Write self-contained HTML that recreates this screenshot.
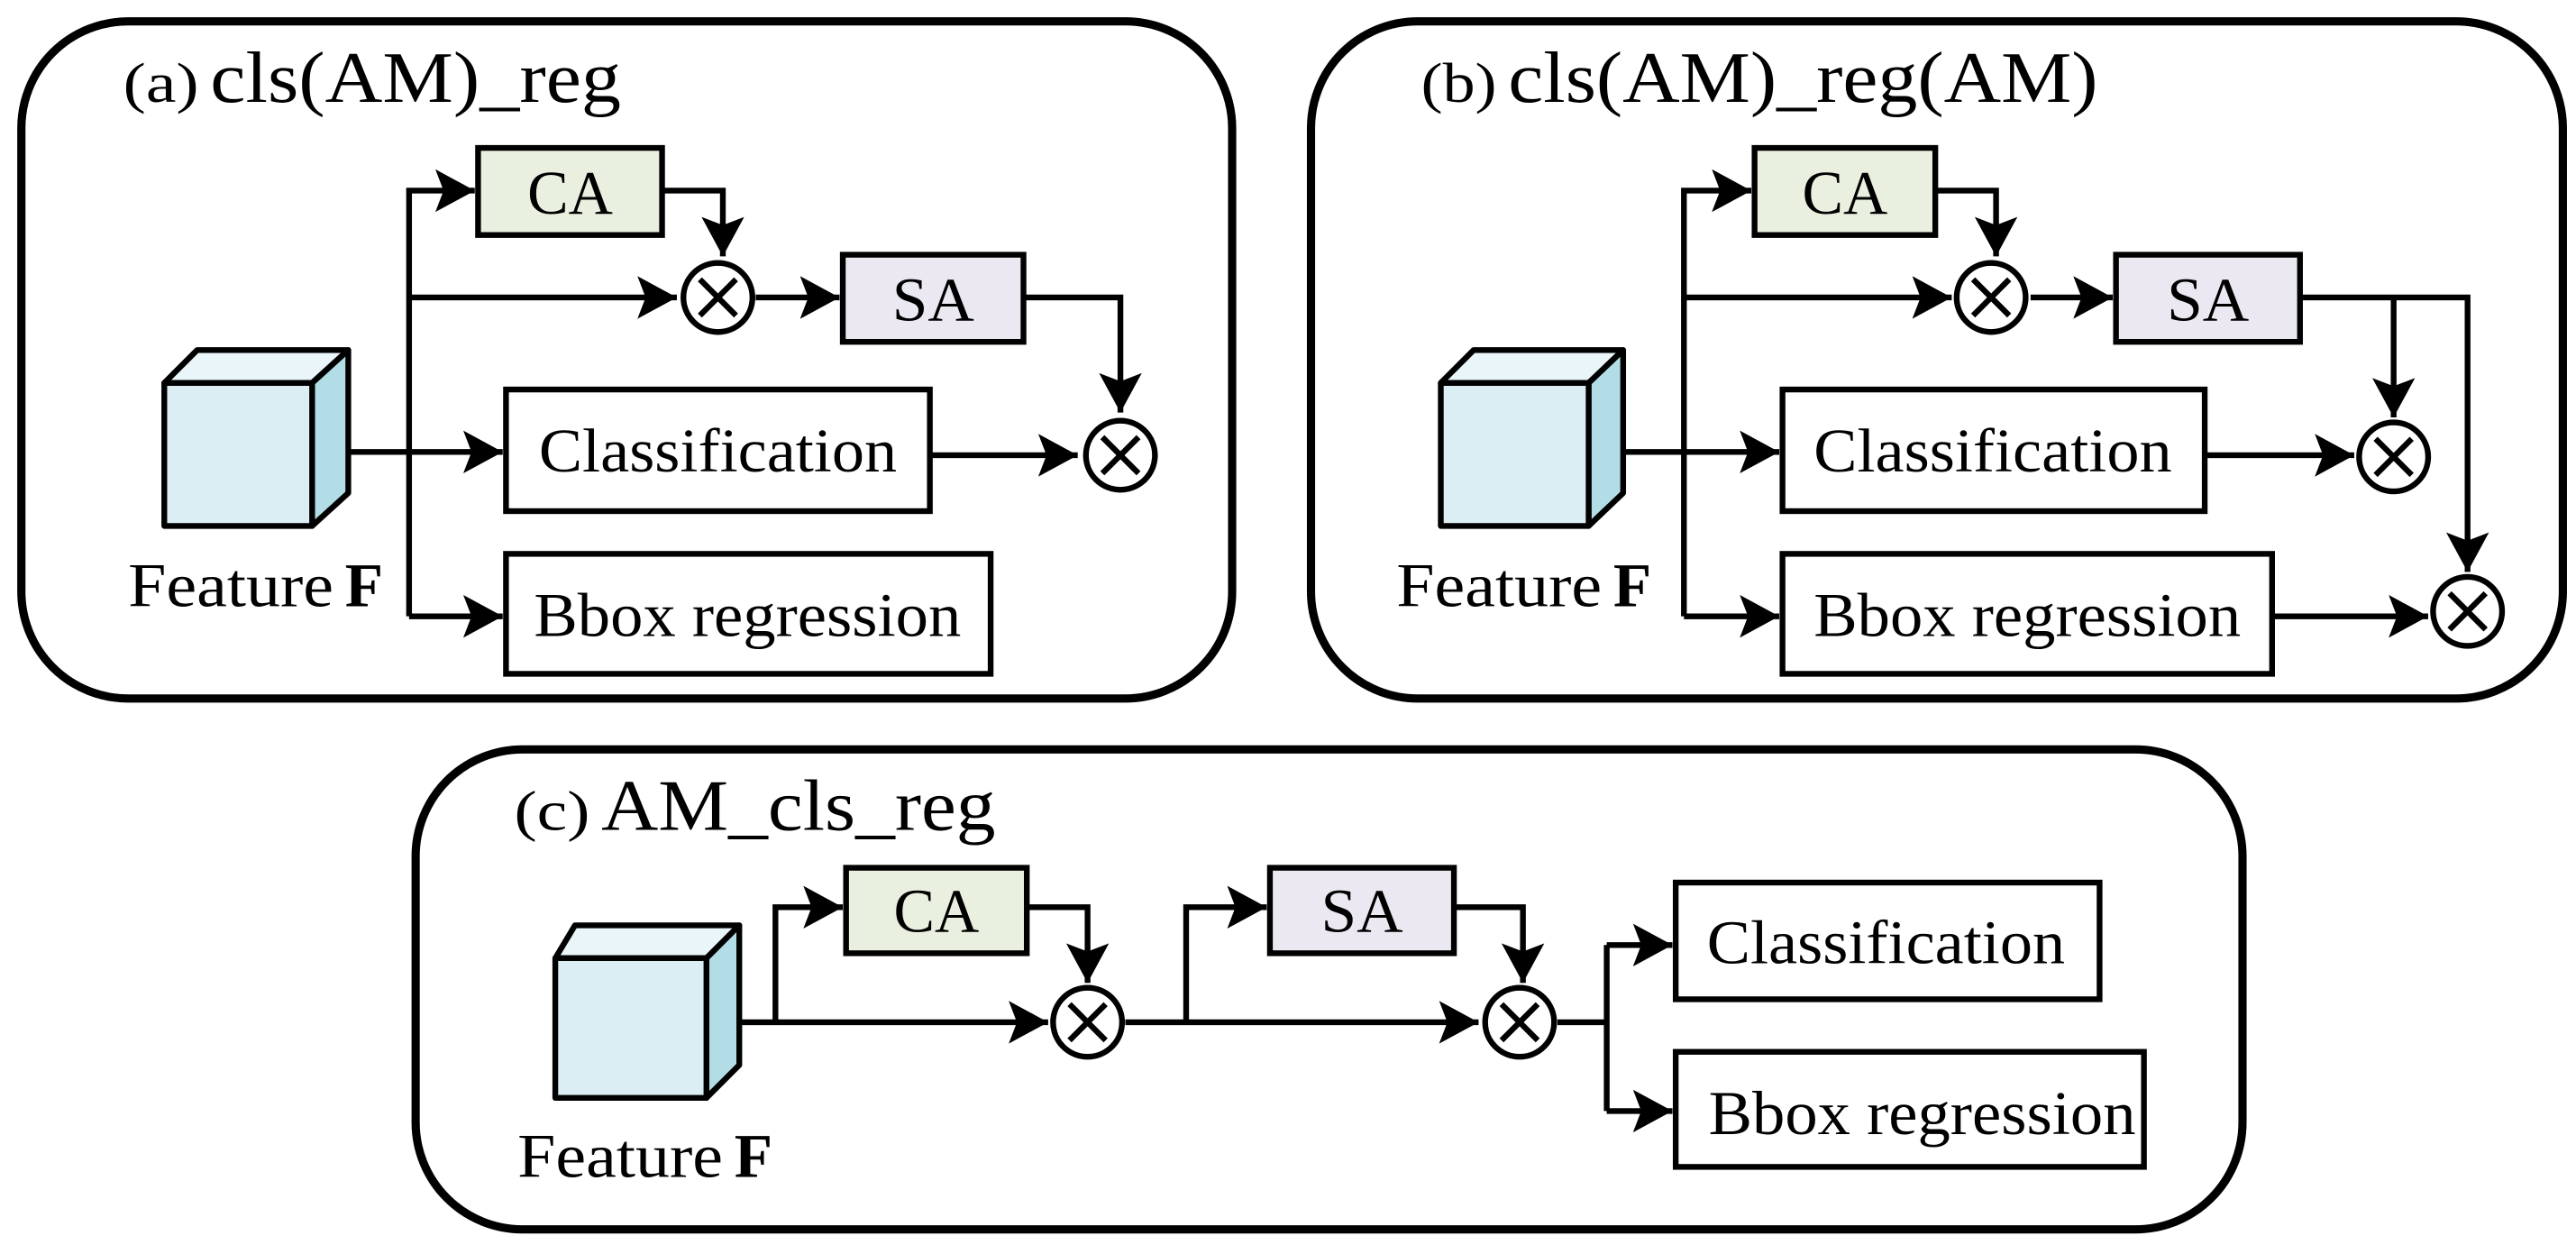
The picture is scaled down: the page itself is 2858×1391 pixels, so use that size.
<!DOCTYPE html>
<html><head><meta charset="utf-8"><style>html,body{margin:0;padding:0;background:#fff}svg{display:block}text{font-family:"Liberation Serif","Times New Roman",serif}</style></head><body>
<svg width="2858" height="1391" viewBox="0 0 1568 763" preserveAspectRatio="none" xmlns="http://www.w3.org/2000/svg">
<defs>
<marker id="ah" markerUnits="userSpaceOnUse" markerWidth="30" markerHeight="30" refX="24" refY="13" orient="auto">
<path d="M0,0 L24,13 L0,26 L5,13 Z" fill="#000"/>
</marker>
<g id="ox"><circle r="21" fill="#fff" stroke="#000" stroke-width="3.5"/><path d="M-11,-11 L11,11 M11,-11 L-11,11" stroke="#000" stroke-width="3.5"/></g>
</defs>
<g fill="none" stroke="#000" stroke-width="5">
<rect x="13" y="13" width="737" height="412" rx="65"/>
<rect x="798" y="13" width="762" height="412" rx="65"/>
<rect x="253" y="456" width="1112" height="292" rx="65"/>
</g>
<text x="75" y="62" font-size="34" textLength="46" lengthAdjust="spacingAndGlyphs">(a)</text>
<text x="128" y="62" font-size="44" textLength="250" lengthAdjust="spacingAndGlyphs">cls(AM)_reg</text>
<text x="865" y="62" font-size="34" textLength="46" lengthAdjust="spacingAndGlyphs">(b)</text>
<text x="918" y="62" font-size="44" textLength="359" lengthAdjust="spacingAndGlyphs">cls(AM)_reg(AM)</text>
<text x="313" y="505" font-size="34" textLength="46" lengthAdjust="spacingAndGlyphs">(c)</text>
<text x="366" y="505" font-size="44" textLength="240" lengthAdjust="spacingAndGlyphs">AM_cls_reg</text>

<g stroke="#000" stroke-width="3.5" fill="none">
<path d="M212,275 L306,275" marker-end="url(#ah)"/>
<path d="M249,375 L249,116 L289,116" marker-end="url(#ah)"/>
<path d="M249,375 L306,375" marker-end="url(#ah)"/>
<path d="M249,181 L412,181" marker-end="url(#ah)"/>
<path d="M460,181 L511,181" marker-end="url(#ah)"/>
<path d="M403,116 L440,116 L440,156" marker-end="url(#ah)"/>
<path d="M623,181 L682,181 L682,251" marker-end="url(#ah)"/>
<path d="M566,277 L656,277" marker-end="url(#ah)"/>
<path d="M987,275 L1083,275" marker-end="url(#ah)"/>
<path d="M1025,375 L1025,116 L1066,116" marker-end="url(#ah)"/>
<path d="M1025,375 L1083,375" marker-end="url(#ah)"/>
<path d="M1025,181 L1188,181" marker-end="url(#ah)"/>
<path d="M1236,181 L1286,181" marker-end="url(#ah)"/>
<path d="M1178,116 L1215,116 L1215,156" marker-end="url(#ah)"/>
<path d="M1400,181 L1502,181 L1502,348" marker-end="url(#ah)"/>
<path d="M1457,181 L1457,254" marker-end="url(#ah)"/>
<path d="M1342,277 L1433,277" marker-end="url(#ah)"/>
<path d="M1383,375 L1478,375" marker-end="url(#ah)"/>
<path d="M450,622 L638,622" marker-end="url(#ah)"/>
<path d="M472,622 L472,552 L513,552" marker-end="url(#ah)"/>
<path d="M625,552 L662,552 L662,598" marker-end="url(#ah)"/>
<path d="M685,622 L900,622" marker-end="url(#ah)"/>
<path d="M722,622 L722,552 L771,552" marker-end="url(#ah)"/>
<path d="M885,552 L927,552 L927,598" marker-end="url(#ah)"/>
<path d="M948,622 L978,622"/>
<path d="M978,575 L978,676"/>
<path d="M978,575 L1018,575" marker-end="url(#ah)"/>
<path d="M978,676 L1018,676" marker-end="url(#ah)"/>
</g>
<use href="#ox" x="437" y="181"/>
<use href="#ox" x="682" y="277"/>
<use href="#ox" x="1212" y="181"/>
<use href="#ox" x="1457" y="278"/>
<use href="#ox" x="1502" y="372"/>
<use href="#ox" x="662" y="622"/>
<use href="#ox" x="925" y="622"/>

<g stroke="#000" stroke-width="3.5">
<rect x="291" y="90" width="112" height="53" fill="#e9f0df"/>
<rect x="513" y="155" width="110" height="53" fill="#ebe8f1"/>
<rect x="308" y="237" width="258" height="74" fill="#fff"/>
<rect x="308" y="337" width="295" height="73" fill="#fff"/>
<rect x="1068" y="90" width="110" height="53" fill="#e9f0df"/>
<rect x="1288" y="155" width="112" height="53" fill="#ebe8f1"/>
<rect x="1085" y="237" width="257" height="74" fill="#fff"/>
<rect x="1085" y="337" width="298" height="73" fill="#fff"/>
<rect x="515" y="528" width="110" height="52" fill="#e9f0df"/>
<rect x="773" y="528" width="112" height="52" fill="#ebe8f1"/>
<rect x="1020" y="537" width="258" height="71" fill="#fff"/>
<rect x="1020" y="640" width="285" height="70" fill="#fff"/>
<g stroke-linejoin="round">
<path d="M100,233 L120,213 L212,213 L190,233 Z" fill="#e9f5f8"/>
<path d="M190,233 L212,213 L212,300 L190,320 Z" fill="#b3dde6"/>
<rect x="100" y="233" width="90" height="87" fill="#dbeef4"/>
<path d="M877,233 L897,213 L988,213 L967,233 Z" fill="#e9f5f8"/>
<path d="M967,233 L988,213 L988,300 L967,320 Z" fill="#b3dde6"/>
<rect x="877" y="233" width="90" height="87" fill="#dbeef4"/>
<path d="M338,583 L350,563 L450,563 L430,583 Z" fill="#e9f5f8"/>
<path d="M430,583 L450,563 L450,648 L430,668 Z" fill="#b3dde6"/>
<rect x="338" y="583" width="92" height="85" fill="#dbeef4"/>
</g>
</g>

<g font-size="38" text-anchor="middle">
<text x="347" y="130" textLength="52" lengthAdjust="spacingAndGlyphs">CA</text>
<text x="568" y="195" textLength="50" lengthAdjust="spacingAndGlyphs">SA</text>
<text x="437" y="287" textLength="218" lengthAdjust="spacingAndGlyphs">Classification</text>
<text x="455" y="387" textLength="260" lengthAdjust="spacingAndGlyphs">Bbox regression</text>
<text x="1123" y="130" textLength="52" lengthAdjust="spacingAndGlyphs">CA</text>
<text x="1344" y="195" textLength="50" lengthAdjust="spacingAndGlyphs">SA</text>
<text x="1213" y="287" textLength="218" lengthAdjust="spacingAndGlyphs">Classification</text>
<text x="1234" y="387" textLength="260" lengthAdjust="spacingAndGlyphs">Bbox regression</text>
<text x="570" y="567" textLength="52" lengthAdjust="spacingAndGlyphs">CA</text>
<text x="829" y="567" textLength="50" lengthAdjust="spacingAndGlyphs">SA</text>
<text x="1148" y="586" textLength="218" lengthAdjust="spacingAndGlyphs">Classification</text>
<text x="1170" y="690" textLength="260" lengthAdjust="spacingAndGlyphs">Bbox regression</text>
</g>
<g font-size="38">
<text x="78" y="369" textLength="125" lengthAdjust="spacingAndGlyphs">Feature</text>
<text x="210" y="369" font-weight="bold">F</text>
<text x="850" y="369" textLength="125" lengthAdjust="spacingAndGlyphs">Feature</text>
<text x="982" y="369" font-weight="bold">F</text>
<text x="315" y="716" textLength="125" lengthAdjust="spacingAndGlyphs">Feature</text>
<text x="447" y="716" font-weight="bold">F</text>
</g>
</svg>
</body></html>
